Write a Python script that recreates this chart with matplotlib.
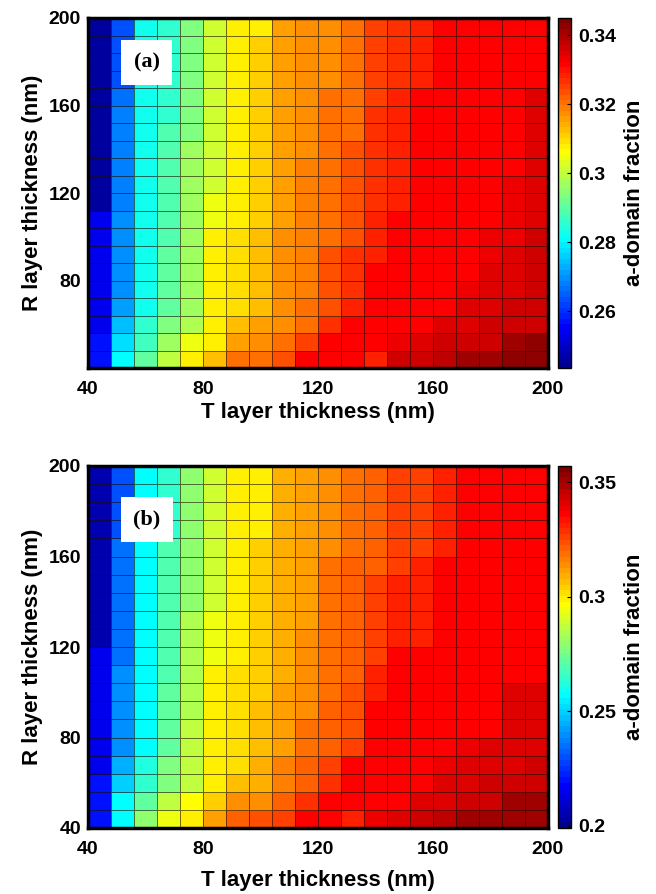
import numpy as np
import matplotlib
matplotlib.use('Agg')
import matplotlib.pyplot as plt
from matplotlib.colors import ListedColormap

plt.rcParams['font.family'] = ['Liberation Sans', 'DejaVu Sans']
plt.rcParams['font.weight'] = 'bold'

# cell edges (nm)
t_edges = np.linspace(40, 200, 21)
r_edges = np.linspace(40, 200, 21)

# a-domain fraction, rows from R = 200 nm (top) down to R = 40 nm
frac_a = [
    [.246, .264, .282, .286, .294, .301, .307, .308, .315, .317, .318, .321, .325, .326, .328, .332, .332, .332, .332, .332],
    [.246, .264, .282, .286, .294, .301, .307, .311, .315, .317, .318, .321, .325, .326, .328, .332, .332, .332, .332, .332],
    [.246, .264, .282, .286, .294, .301, .307, .311, .315, .317, .318, .321, .325, .326, .328, .332, .332, .332, .332, .332],
    [.246, .264, .282, .286, .294, .301, .307, .311, .315, .317, .318, .321, .325, .326, .328, .332, .332, .332, .332, .332],
    [.246, .266, .282, .286, .294, .301, .307, .311, .315, .317, .321, .321, .325, .329, .332, .332, .332, .332, .332, .334],
    [.246, .268, .282, .286, .294, .301, .307, .311, .315, .317, .321, .321, .327, .329, .332, .332, .332, .332, .332, .334],
    [.246, .268, .282, .289, .294, .301, .307, .311, .315, .317, .321, .321, .327, .329, .332, .332, .332, .332, .332, .334],
    [.246, .268, .282, .289, .297, .301, .307, .311, .315, .317, .321, .323, .327, .329, .332, .332, .332, .332, .332, .334],
    [.246, .268, .282, .289, .297, .301, .307, .311, .315, .319, .321, .323, .327, .329, .332, .332, .332, .332, .332, .334],
    [.246, .268, .282, .289, .297, .301, .307, .311, .315, .319, .321, .323, .327, .329, .332, .332, .332, .332, .333, .335],
    [.246, .268, .282, .289, .297, .304, .307, .311, .315, .319, .321, .323, .327, .329, .332, .332, .332, .332, .333, .335],
    [.254, .269, .282, .289, .297, .304, .307, .311, .315, .319, .321, .323, .329, .332, .332, .332, .332, .332, .333, .335],
    [.254, .269, .282, .289, .297, .307, .310, .313, .317, .319, .321, .323, .329, .332, .332, .332, .332, .333, .333, .337],
    [.254, .269, .282, .291, .297, .307, .310, .313, .317, .319, .323, .326, .329, .332, .332, .332, .332, .333, .335, .337],
    [.254, .269, .282, .291, .297, .307, .310, .313, .317, .319, .323, .326, .332, .332, .332, .332, .332, .334, .335, .337],
    [.254, .269, .282, .291, .297, .307, .310, .313, .317, .319, .323, .326, .332, .332, .332, .332, .333, .334, .335, .337],
    [.254, .271, .282, .291, .297, .307, .310, .313, .317, .321, .323, .329, .332, .332, .332, .332, .334, .334, .336, .337],
    [.254, .274, .285, .293, .299, .307, .312, .315, .318, .321, .327, .332, .332, .332, .332, .334, .335, .336, .336, .337],
    [.257, .277, .287, .296, .304, .308, .315, .317, .320, .325, .331, .332, .332, .333, .334, .336, .336, .336, .341, .342],
    [.257, .281, .291, .300, .307, .313, .321, .320, .323, .331, .332, .332, .328, .336, .336, .338, .341, .341, .342, .342],
]

frac_b = [
    [.204, .231, .258, .265, .278, .289, .298, .300, .308, .311, .314, .318, .321, .325, .325, .332, .336, .336, .336, .336],
    [.204, .231, .258, .265, .278, .289, .298, .300, .308, .311, .314, .318, .321, .325, .325, .332, .336, .336, .336, .336],
    [.204, .231, .258, .265, .278, .289, .298, .300, .308, .311, .314, .318, .321, .325, .325, .332, .336, .336, .336, .336],
    [.204, .231, .258, .265, .278, .289, .298, .300, .308, .311, .314, .318, .321, .325, .325, .332, .336, .336, .336, .336],
    [.204, .235, .258, .270, .278, .289, .298, .303, .308, .311, .314, .318, .321, .325, .325, .332, .336, .336, .336, .336],
    [.204, .235, .258, .270, .278, .289, .298, .303, .308, .311, .318, .321, .321, .325, .330, .336, .336, .336, .336, .336],
    [.204, .235, .258, .270, .278, .289, .298, .303, .308, .311, .318, .321, .325, .330, .330, .336, .336, .336, .336, .336],
    [.204, .235, .258, .270, .278, .289, .298, .303, .308, .311, .318, .321, .325, .330, .330, .336, .336, .336, .336, .336],
    [.204, .235, .258, .270, .284, .294, .298, .303, .308, .311, .318, .321, .325, .330, .330, .336, .336, .336, .336, .336],
    [.204, .235, .258, .270, .284, .294, .298, .303, .308, .314, .318, .321, .325, .330, .330, .336, .336, .336, .336, .336],
    [.215, .235, .258, .270, .284, .294, .298, .303, .308, .314, .318, .321, .325, .336, .336, .336, .336, .336, .336, .336],
    [.215, .240, .258, .270, .284, .298, .302, .303, .308, .314, .318, .321, .330, .336, .336, .336, .336, .336, .336, .336],
    [.215, .240, .258, .273, .284, .298, .302, .303, .311, .314, .318, .324, .330, .336, .336, .336, .336, .336, .340, .340],
    [.215, .240, .258, .273, .284, .298, .302, .306, .311, .314, .321, .324, .336, .336, .336, .336, .336, .336, .340, .340],
    [.215, .240, .258, .273, .286, .298, .302, .306, .311, .318, .321, .324, .336, .336, .336, .336, .336, .336, .340, .341],
    [.215, .240, .258, .273, .286, .298, .302, .306, .311, .318, .321, .327, .336, .336, .336, .336, .338, .340, .341, .341],
    [.215, .245, .262, .276, .287, .298, .302, .310, .316, .322, .325, .335, .336, .336, .336, .338, .341, .341, .341, .344],
    [.220, .250, .265, .276, .287, .298, .306, .310, .316, .322, .329, .335, .336, .336, .336, .340, .341, .343, .343, .344],
    [.220, .257, .272, .286, .297, .305, .313, .314, .322, .329, .335, .335, .336, .335, .341, .341, .343, .344, .352, .352],
    [.220, .258, .278, .294, .299, .311, .321, .324, .325, .335, .336, .332, .338, .341, .343, .346, .352, .352, .352, .352],
]

clim_a = (0.2435, 0.345)
clim_b = (0.199, 0.357)
cticks_a = [0.26, 0.28, 0.30, 0.32, 0.34]
cticks_b = [0.20, 0.25, 0.30, 0.35]
xticks = [40, 80, 120, 160, 200]
yticks_a = [80, 120, 160, 200]
yticks_b = [40, 80, 120, 160, 200]


def matlab_jet(m=64):
    # same construction as MATLAB's jet(m)
    n = int(np.ceil(m / 4))
    u = np.concatenate([np.arange(1, n + 1) / n, np.ones(n - 1), np.arange(n, 0, -1) / n])
    g = int(np.ceil(n / 2)) - (1 if m % 4 == 1 else 0) + np.arange(1, len(u) + 1)
    r = g + n
    b = g - n
    J = np.zeros((m, 3))
    for ch, idx in ((0, r), (1, g), (2, b)):
        ok = (idx >= 1) & (idx <= m)
        J[idx[ok] - 1, ch] = u[ok]
    return ListedColormap(J)


cmap = matlab_jet(64)

fig = plt.figure(figsize=(6.56, 8.94), dpi=100)
W, H = 656, 894


def rect(x0, y0, x1, y1):
    return [x0 / W, 1 - y1 / H, (x1 - x0) / W, (y1 - y0) / H]


def panel(top, bottom, data, clim, cticks, yticks, tag, tag_y, xlabelpad):
    ax = fig.add_axes(rect(88, top, 548, bottom))
    cax = fig.add_axes(rect(558, top, 571, bottom))
    mesh = ax.pcolormesh(t_edges, r_edges, np.array(data)[::-1], cmap=cmap,
                         vmin=clim[0], vmax=clim[1],
                         edgecolors=(0.1, 0.05, 0, 0.6), linewidth=0.7)
    ax.set_xlim(40, 200)
    ax.set_ylim(40, 200)
    ax.set_xticks(xticks)
    ax.set_yticks(yticks)
    ax.tick_params(labelsize=14, direction='in', length=0)
    ax.tick_params(axis='x', pad=9)
    ax.tick_params(axis='y', pad=5)
    for s in ax.spines.values():
        s.set_linewidth(2.5)
    ax.set_xlabel('T layer thickness (nm)', fontsize=16, fontweight='bold', labelpad=xlabelpad)
    ax.set_ylabel('R layer thickness (nm)', fontsize=16, fontweight='bold', labelpad=4)
    ax.text(60.5, tag_y, tag, family=['Liberation Serif', 'DejaVu Serif'],
            fontsize=16, fontweight='bold', ha='center', va='center',
            bbox=dict(facecolor='white', edgecolor='none', pad=9))

    cb = fig.colorbar(mesh, cax=cax)
    cb.set_ticks(cticks)
    cb.set_ticklabels(['%g' % t for t in cticks])
    cb.outline.set_linewidth(1.0)
    cax.tick_params(labelsize=14, length=3, direction='in', pad=5)
    cb.set_label('a-domain fraction', fontsize=16, fontweight='bold', labelpad=6)
    return ax


panel(18, 368, frac_a, clim_a, cticks_a, yticks_a, '(a)', 179.5, 3)
panel(466, 828, frac_b, clim_b, cticks_b, yticks_b, '(b)', 176.5, 9)

fig.savefig('out.png', dpi=100)
